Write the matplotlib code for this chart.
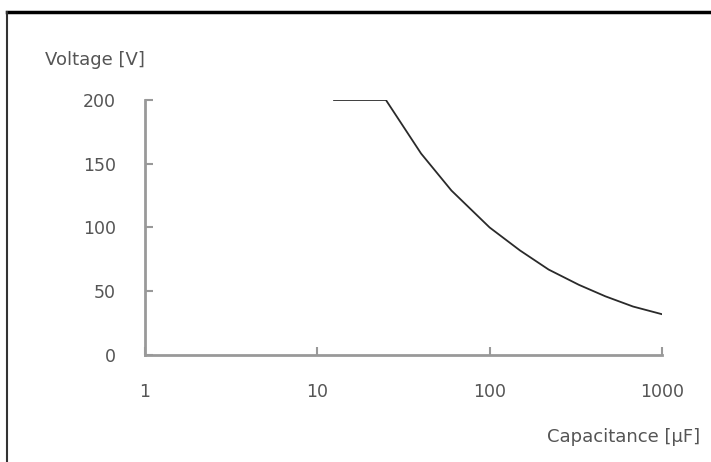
import matplotlib
matplotlib.use("Agg")
import matplotlib.pyplot as plt
from matplotlib.lines import Line2D

plt.rcParams['font.family'] = ['DejaVu Sans']

# capacitance (uF) vs rated voltage (V)
capacitance = [12.5, 25, 40, 60, 100, 150, 220, 330, 470, 680, 1000]
voltage = [200, 200, 158, 129, 100, 82, 67, 55, 46, 38, 32]

xticks = [1, 10, 100, 1000]
xlabels = ['1', '10', '100', '1000']
yticks = [0, 50, 100, 150, 200]

text_col = '#555555'
axis_col = '#999999'

fig = plt.figure(figsize=(7.11, 4.62), dpi=100)
ax = fig.add_axes([0.204, 0.2316, 0.727, 0.552])

ax.plot(capacitance, voltage, color='#2a2a2a', lw=1.3)

ax.set_xscale('log')
ax.set_xlim(1, 1000)
ax.set_ylim(0, 200)
ax.set_xticks(xticks)
ax.set_xticklabels(xlabels)
ax.minorticks_off()
ax.set_yticks(yticks)

for s in ['top', 'right']:
    ax.spines[s].set_visible(False)
for s in ['left', 'bottom']:
    ax.spines[s].set_color(axis_col)
    ax.spines[s].set_linewidth(2)

ax.tick_params(axis='both', direction='in', length=6, width=1.5,
               color=axis_col, labelcolor=text_col, labelsize=12.5)
ax.tick_params(axis='y', pad=21)
ax.tick_params(axis='x', pad=20)

fig.text(0.063, 0.87, 'Voltage [V]', color=text_col, fontsize=13,
         ha='left', va='center')
fig.text(0.985, 0.054, 'Capacitance [μF]', color=text_col, fontsize=13,
         ha='right', va='center')

# outer frame (top and left edges visible)
fig.add_artist(Line2D([0.01, 1.0], [0.975, 0.975], transform=fig.transFigure,
                      color='black', lw=2.5))
fig.add_artist(Line2D([0.01, 0.01], [0.0, 0.975], transform=fig.transFigure,
                      color='#333333', lw=1.5))

fig.savefig('out.png', dpi=100)
